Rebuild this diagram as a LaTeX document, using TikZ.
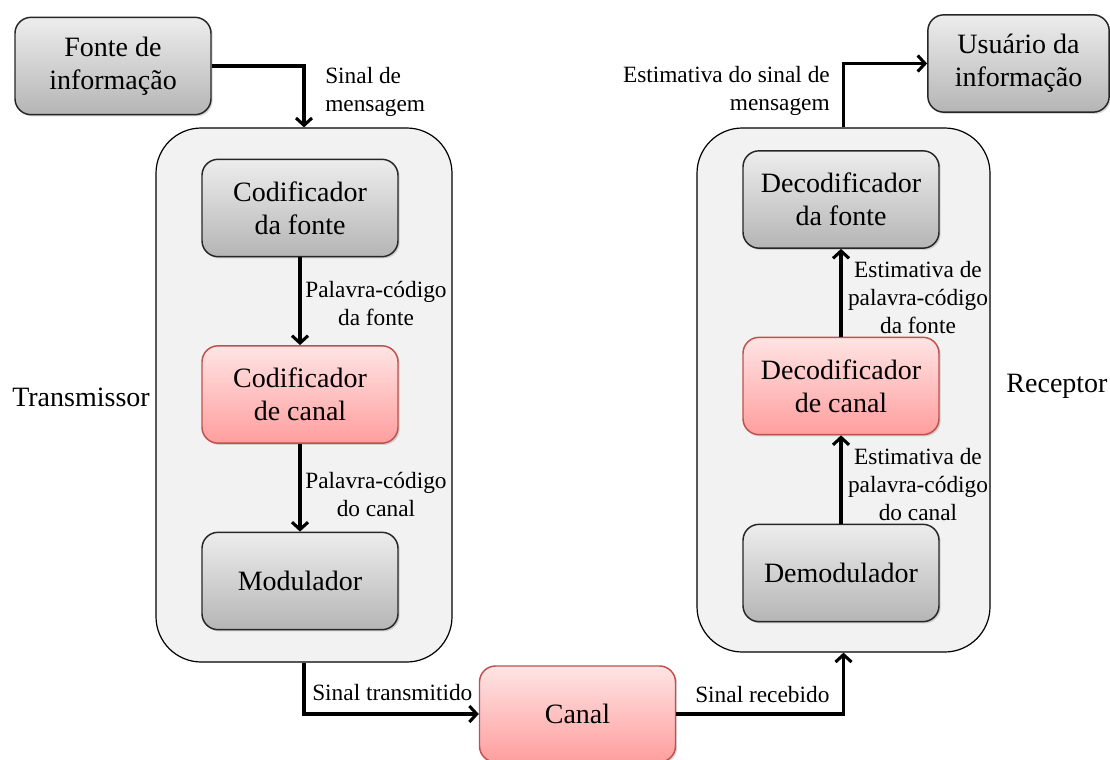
\documentclass[tikz,border=0pt]{standalone}
\usepackage{fontspec}
\setmainfont{Liberation Serif}
\usetikzlibrary{arrows.meta,shadows}
\definecolor{gtop}{HTML}{EDEDED}
\definecolor{gbot}{HTML}{B5B5B5}
\definecolor{ptop}{HTML}{FFE4E4}
\definecolor{pbot}{HTML}{FF9E9E}
\definecolor{pborder}{HTML}{C0504D}
\definecolor{contfill}{HTML}{F2F2F2}
\begin{document}
\begin{tikzpicture}[x=0.75pt,y=-0.75pt,
  blk/.style={rounded corners=12pt, minimum width=147pt, minimum height=73pt, align=center,
    font=\fontsize{21}{24.5}\selectfont, line width=1.1pt,
    drop shadow={opacity=0.3,shadow xshift=1.3pt,shadow yshift=-1.3pt}},
  gbox/.style={blk, draw=black!85, top color=gtop, bottom color=gbot},
  pbox/.style={blk, draw=pborder, top color=ptop, bottom color=pbot},
  cont/.style={draw=black, fill=contfill, rounded corners=34pt, line width=0.9pt, inner sep=0pt},
  lbl/.style={font=\fontsize{17.5}{21}\selectfont, inner sep=0pt},
  sidelbl/.style={font=\fontsize{21}{24.5}\selectfont, inner sep=0pt},
  arr/.style={line width=2.3pt, -{Straight Barb[length=5.5pt,width=12pt]}}]
\useasboundingbox (0,0) rectangle (1110,760);
% containers
\node[cont, minimum width=222pt, minimum height=400.5pt] (tx) at (304,395) {};
\node[cont, minimum width=219.75pt, minimum height=393pt] (rx) at (843.5,390) {};
% transmitter blocks
\node[gbox] (fonte) at (113,66) {Fonte de\\informação};
\node[gbox] (codf) at (300,208) {Codificador\\da fonte};
\node[pbox] (codc) at (300,394.5) {Codificador\\de canal};
\node[gbox] (mod) at (300,581) {Modulador};
% channel
\node[pbox, minimum height=72pt] (canal) at (577.5,714) {Canal};
% receiver blocks
\node[gbox] (decf) at (841,199.5) {Decodificador\\da fonte};
\node[pbox] (decc) at (841,386) {Decodificador\\de canal};
\node[gbox] (demod) at (841,573) {Demodulador};
\node[gbox, minimum width=136pt] (user) at (1018.5,63.5) {Usuário da\\informação};
% side labels
\node[sidelbl] (txl) at (81,397) {Transmissor};
\node[sidelbl] (rxl) at (1057,386) {Receptor};
% connectors
\draw[arr] (fonte.east) -| (tx.north);
\draw[arr] (codf) -- (codc);
\draw[arr] (codc) -- (mod);
\draw[arr] (tx.south) |- (canal.west);
\draw[arr] (canal.east) -| (rx.south);
\draw[arr] (demod) -- (decc);
\draw[arr] (decc) -- (decf);
\draw[arr] (rx.north) |- (user.west);
% connector labels
\node[lbl, anchor=west, align=left] (l1) at (325,92) {Sinal de\\mensagem};
\node[lbl, align=center] (l2) at (376,303) {Palavra-código\\da fonte};
\node[lbl, align=center] (l3) at (376,494) {Palavra-código\\do canal};
\node[lbl, anchor=west] (l4) at (312,693) {Sinal transmitido};
\node[lbl, anchor=west] (l5) at (695,695) {Sinal recebido};
\node[lbl, align=center] (l6) at (918,298) {Estimativa de\\palavra-código\\da fonte};
\node[lbl, align=center] (l7) at (918,485) {Estimativa de\\palavra-código\\do canal};
\node[lbl, anchor=east, align=right] (l8) at (830,91) {Estimativa do sinal de\\mensagem};
\end{tikzpicture}
\end{document}
